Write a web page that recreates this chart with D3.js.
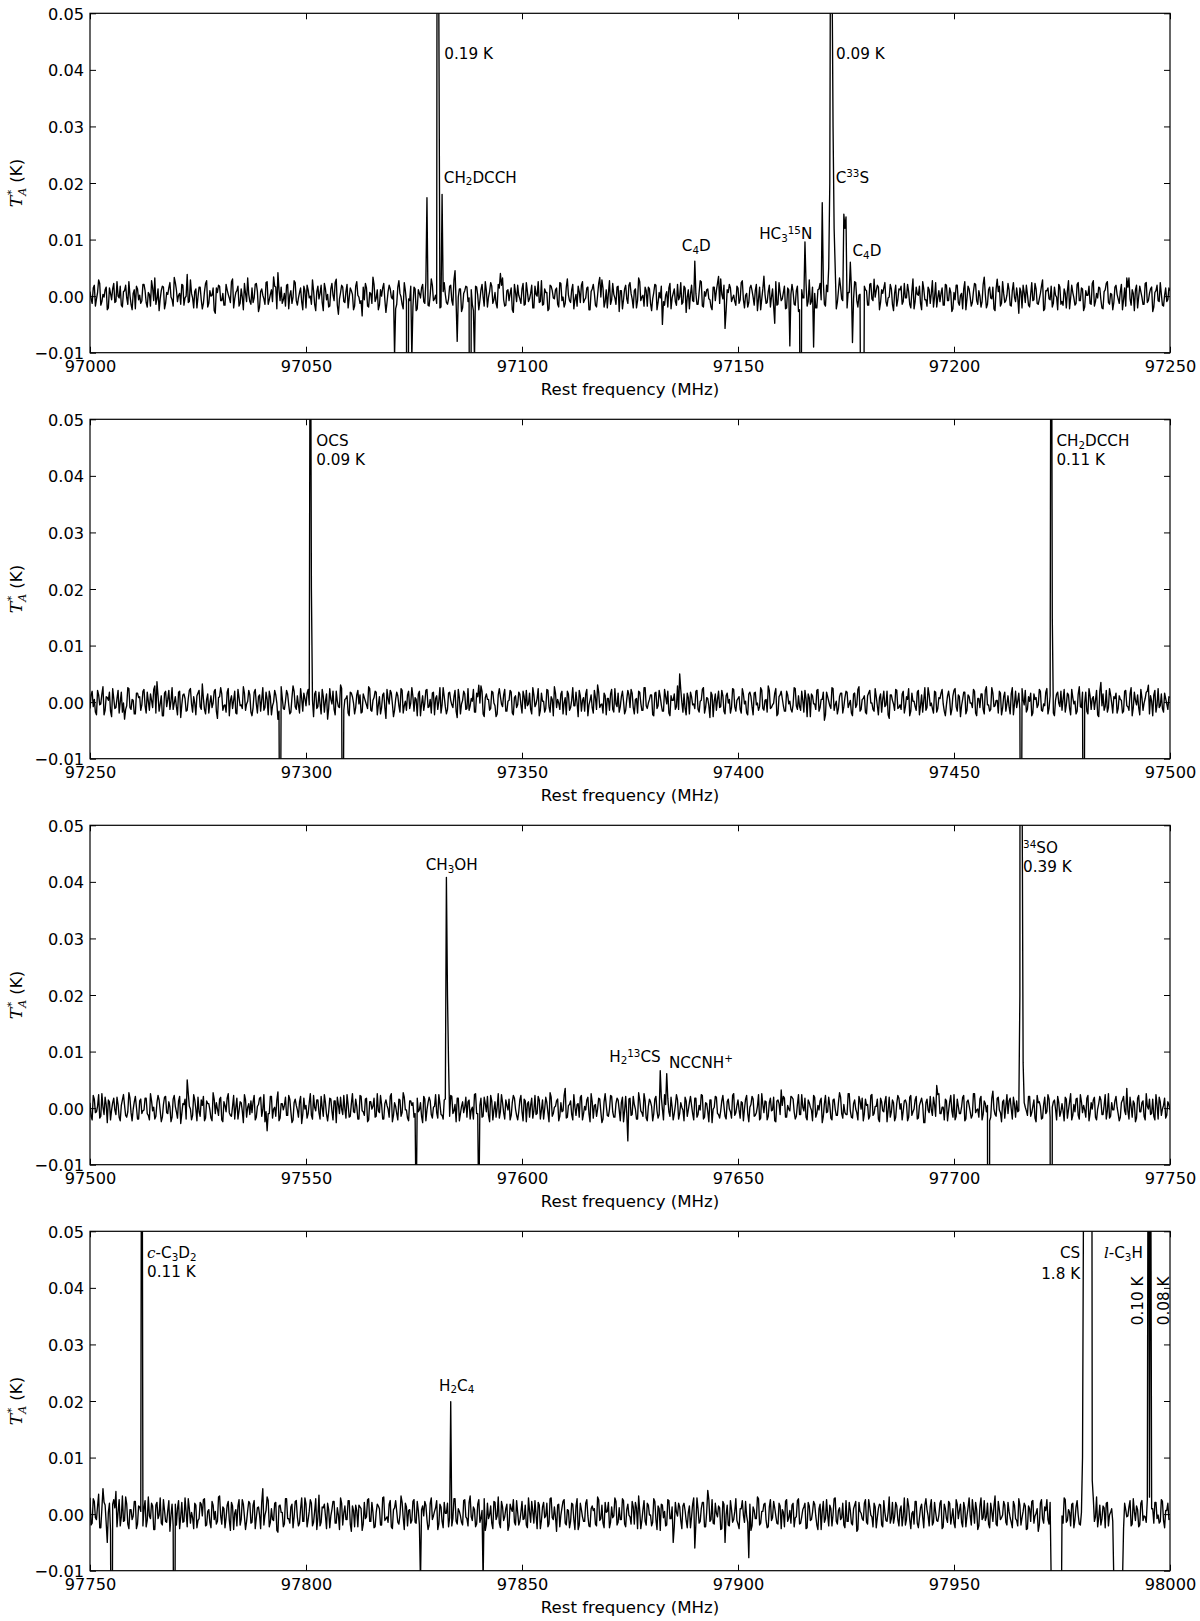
<!DOCTYPE html>
<html><head><meta charset="utf-8">
<script src="https://cdn.jsdelivr.net/npm/d3@7"></script>
<style>body{margin:0;background:#fff} svg text{font-family:"DejaVu Sans",sans-serif}</style>
</head><body>
<svg id="chart" width="1200" height="1621"></svg>
<script>
// ---------------- DATA ----------------
const startFreqs = [97000, 97250, 97500, 97750];   // MHz, each panel spans 250 MHz
const spanMHz = 250;
const xTickStep = 50;
const yTicks = [-0.01, 0, 0.01, 0.02, 0.03, 0.04, 0.05];
const noiseUnit = 1.6e-4; // K per noise count

// baseline noise on even channels (every 0.5 MHz, starting at the panel start), in noise counts
const noise1 = [
5,-8,12,-3,18,-10,2,7,-15,9,-4,14,-6,0,11,-12,6,-2,16,-9,3,-14,8,1,-5,
13,-7,4,-11,9,20,-3,-16,6,10,-8,2,15,-4,-12,7,1,-9,12,-2,24,-6,3,-13,8,
-1,10,-14,5,17,-8,0,9,-19,4,11,-5,-10,13,2,-7,19,-3,6,-11,8,-15,3,12,-6,
9,-2,14,-17,5,1,-9,16,-4,7,-12,10,26,-5,-8,3,12,-14,6,-1,15,-10,4,-6,11,
-13,7,0,18,-9,5,-3,12,-16,8,2,-11,14,-5,9,-20,4,10,-7,13,-2,6,-15,11,1,
-8,16,-4,9,-12,3,21,-6,7,-10,0,14,-18,5,8,-3,11,-9,17,-1,-14,6,12,-5,2,
10,-16,7,-2,13,-8,4,-11,19,-5,1,9,-13,6,15,-7,-3,12,-10,28,-4,8,-17,3,11,
-6,14,-9,2,10,-15,7,-1,16,-12,5,11,-4,-8,13,-2,20,-11,6,-5,9,-18,4,12,-3,
8,-10,15,-6,3,-13,11,0,-7,17,-9,4,-16,12,6,-3,9,-12,14,-1,-8,19,-5,7,-14,
2,11,-7,16,-4,9,-15,5,13,-10,1,-6,18,-12,7,3,-9,14,-2,10,-17,6,-4,12,-8,
15,-3,6,-13,20,-5,1,10,-11,8,-16,4,12,-7,-2,17,-10,5,9,-14,3,-6,13,-1,-9,
11,-18,7,2,-5,14,-9,4,16,-12,0,8,-4,-15,10,6,-8,19,-3,-11,7,13,-6,1,-10,
9,-4,17,-13,3,-7,12,-1,6,-16,10,-3,22,-8,5,-12,8,1,-10,15,-5,4,-14,9,-2,
13,-9,6,-17,11,-2,8,-11,18,-6,3,-13,7,14,-4,-9,12,-1,5,-15,9,-7,20,-3,6,
-12,4,11,-8,16,-5,1,-14,9,7,-10,13,-3,-18,6,10,-7,3,15,-11,-1,8,-16,12,-4,
7,-9,14,-2,5,-13,19,-6,2,11,-15,8,-4,10,-8,17,-1,-12,6,3,-10,13,-5,9,-17,
4,12,-7,1,-14,16,-3,8,-11,5,13,-9,0,-6,21,-13,7,-2,10,-16,4,11,-8,3,-5,
14,-10,6,-1,9,-19,5,12,-7,2,-12,15,-4,8,-9,3,18,-14,6,-3,11,-8,1,-15,10,
-6,8,-13,17,-2,4,-10,13,-5,9,-16,6,1,-8,14,-11,3,10,-4,-14,7,16,-9,2,-7,
12,-3,5,-15,9,-6,20,-10,3,7,-13,11,-1,-9,15,-5,8,-17,4,12,-6,2,-11,9,-4,
6];
// baseline noise on odd channels (half-way between the even ones)
const noise1b = [
-3,9,-11,4,14,-6,-1,10,-13,3,8,-7,16,-2,-10,5,12,-9,1,-15,7,11,-4,-8,13,
6,-12,2,17,-5,-9,8,-3,11,-14,4,9,-1,-11,15,-6,3,13,-10,0,-7,18,-2,5,-13,
10,-4,-8,14,-12,6,1,-16,9,12,-5,3,-10,7,-2,16,-13,4,11,-8,-1,14,-6,2,-9,
-7,13,5,-12,8,-3,15,-9,2,-6,11,-14,7,10,-4,-11,13,1,-8,17,-5,-2,9,-15,6,
12,-2,-9,6,-16,11,3,-7,14,-4,-12,8,1,15,-10,-3,12,-6,5,-13,9,2,-11,16,-1,
-5,10,14,-11,4,-8,13,-2,-15,7,9,-4,-7,12,-1,6,-14,10,3,-9,15,-6,-3,11,-12,
8,-14,3,9,-6,16,-10,1,12,-3,-8,14,-12,5,2,-9,11,-5,18,-7,-1,8,-13,6,10,
-2,7,-16,11,1,-5,13,-11,6,-1,15,-8,4,-13,9,12,-4,-10,7,3,-15,13,-6,1,-8,
14,-9,5,-3,12,-13,2,16,-6,-10,8,4,-14,11,-2,7,-9,15,-5,-12,10,1,-7,13,-4,
-11,5,12,-7,-2,10,-15,8,3,-12,14,-1,9,-6,-13,17,-4,2,-9,11,6,-14,8,-3,12,
3,-13,8,-5,16,-1,-11,6,10,-8,-3,13,-15,4,11,-6,1,-12,14,-2,8,-10,-4,15,-7,
9,-1,-14,12,-6,3,-9,17,-11,5,7,-3,-12,10,-5,14,-8,2,12,-16,4,9,-2,-6,11,
-8,15,-4,1,-12,9,6,-10,13,-3,-15,8,2,-7,12,-1,-11,16,-9,4,-3,11,-13,7,2,
5,-10,11,-15,7,-2,14,-6,-9,10,3,-13,8,-4,16,-11,5,1,-7,13,-14,6,10,-5,-1,
-13,4,9,-3,15,-12,2,-7,11,6,-10,14,-5,-1,12,-15,7,9,-6,-2,13,-9,3,-11,8,
11,-6,-2,13,-9,5,-14,10,1,-8,16,-4,-11,7,3,-12,15,-2,-6,9,-10,12,-5,4,-14,
-4,12,-10,3,8,-15,11,-1,-7,14,-5,6,-12,13,2,-9,10,-3,-14,8,5,-11,16,-7,1,
7,-11,15,-6,-1,9,-13,4,12,-10,2,-5,14,-8,-3,11,-16,6,9,-4,-12,10,-1,13,-9,
-10,3,6,-14,12,-2,-8,15,-5,8,-12,1,11,-9,17,-6,-2,9,-13,5,14,-7,3,-15,10,
2,-8,13,-4,-11,10,-3,7,-16,12,-1,5,-9,14,-7,3,10,-12,6,-5,15,-10,1,-6,9];
const noise2 = [
-7,12,3,-14,8,-2,17,-9,5,11,-16,4,-6,13,0,-11,9,-4,15,-8,2,-13,10,6,-3,
14,-12,1,9,-6,18,-3,-10,7,-15,12,3,-8,16,-1,-5,11,-17,8,4,-9,13,-2,6,-14,
10,-5,20,-8,3,-12,7,-1,14,-18,6,9,-4,-11,15,2,-7,12,-13,5,-3,17,-9,1,8,
-15,11,-2,6,-10,16,-6,3,12,-14,0,8,-19,9,5,-8,13,-3,-11,18,-5,7,-12,4,10,
-4,14,-16,2,9,-7,11,-13,6,1,-10,15,-2,-8,12,-5,19,-12,3,7,-15,10,-1,-6,13,
8,-11,5,-3,17,-9,2,12,-14,6,-6,10,-18,4,13,-2,-9,11,-4,15,-12,1,8,-7,16,
-10,3,9,-15,7,-1,14,-5,-12,11,4,-8,16,-3,6,-13,10,2,-6,13,-17,5,-2,12,-8,
15,-4,1,-11,10,-7,18,-13,5,3,-9,12,-1,-16,8,6,-5,14,-10,2,11,-14,7,-3,9,
-12,6,13,-2,-8,16,-5,4,-15,10,1,-7,13,-11,3,17,-6,-1,9,-13,5,12,-9,2,-4,
11,-16,7,2,-10,14,-3,8,-12,5,19,-6,-2,10,-14,4,9,-8,15,-5,-11,6,1,-9,13,
-6,10,-13,4,12,-1,-9,16,-7,3,8,-15,11,-4,6,-10,14,-2,-12,7,2,-8,18,-5,0,
9,-14,5,11,-3,-7,13,-11,2,16,-6,4,-17,8,1,-9,12,-5,7,-13,10,3,-6,14,-10,
4,-8,15,-2,-12,9,6,-14,11,-1,-5,13,-9,3,18,-7,-3,10,-15,6,12,-4,-10,8,1,
-11,16,-4,7,-9,2,13,-16,5,9,-2,-8,14,-6,3,-12,11,1,-7,15,-3,-13,6,10,-5,
12,-6,2,-15,10,-3,17,-8,4,-11,7,13,-1,-10,6,-14,9,3,-5,12,-18,8,-2,14,-7,
-3,9,-12,6,15,-10,1,-5,11,-14,8,2,-9,16,-4,-7,12,-11,5,10,-2,-15,7,3,-8,
13,-5,8,-16,3,11,-9,6,-1,14,-12,4,-6,9,-13,17,-3,-8,10,-4,2,12,-14,6,-10,
7,-13,16,-2,-6,10,-11,3,13,-8,1,-15,9,5,-3,12,-10,-4,15,-7,6,-12,2,11,-5,
-9,14,-3,8,-14,5,1,-10,17,-6,-2,11,-13,7,4,-8,13,-16,3,9,-5,-11,15,-1,6,
10,-7,3,-12,12,-4,-9,16,-6,2,8,-14,5,-1,11,-10,7,-15,13,-3,-6,9,-11,4,-8,
5];
const noise2b = [
8,-5,-11,13,-3,9,-14,6,2,-10,15,-7,4,-12,11,-1,-8,16,-6,3,-13,10,5,-9,12,
-4,11,-9,2,14,-12,7,-2,-15,10,-5,13,1,-8,6,-14,12,-3,9,-10,4,15,-11,-1,7,
13,-8,4,-13,9,-1,-6,12,-10,5,16,-9,-3,11,-15,7,2,-12,14,-4,-7,10,-2,13,-11,
-6,14,-12,8,3,-9,11,-14,6,-4,13,-1,-10,17,-7,1,9,-13,5,12,-8,-3,15,-10,4,
10,-3,7,-16,12,-5,-2,14,-11,9,-7,3,12,-14,1,-6,15,-9,4,-12,11,6,-13,8,-2,
-12,9,1,-7,15,-10,5,11,-3,-13,8,-6,14,-2,10,-16,3,7,-11,13,-4,-9,12,-1,6,
5,-15,12,-2,-9,13,-6,3,10,-14,7,1,-12,16,-5,-8,11,-3,6,-10,14,-13,2,9,-7,
-9,4,14,-11,6,-1,12,-16,9,3,-7,11,-4,-13,15,-2,8,-10,1,13,-12,5,-6,11,-3,
12,-7,-4,10,-13,8,-2,15,-9,1,-11,14,-5,6,-15,10,3,-8,12,-1,-14,9,-6,16,-4,
-1,13,-10,5,9,-15,2,-6,13,-8,11,-3,-12,7,4,-9,14,-11,-2,10,-5,12,-13,3,8,
14,-6,3,-12,11,-9,16,-4,-1,8,-14,10,-7,13,-3,-10,6,12,-15,2,9,-5,-8,14,-11,
-7,10,-13,6,-2,12,-8,1,14,-12,5,-4,11,-16,9,3,-6,13,-10,7,-1,-12,15,-5,2,
6,-12,9,1,-14,11,-5,10,-3,-9,16,-7,2,-11,13,-6,-1,15,-13,8,4,-10,12,-2,-8,
-3,15,-8,-5,12,-11,4,9,-16,7,-2,13,-10,3,11,-14,6,-4,16,-9,1,-7,10,-12,5,
11,-2,-12,9,-6,14,-10,3,7,-13,10,-1,-8,15,-4,5,-11,12,-3,-14,8,2,-9,13,-6,
-8,12,-5,3,-15,10,1,-9,13,-4,-11,16,-6,8,-1,-12,11,-7,4,14,-10,-3,12,-14,7,
15,-10,6,-4,11,-13,8,-1,-6,12,-15,4,9,-8,13,-3,-10,16,-5,2,-12,10,-7,11,-2,
-5,9,-14,12,1,-8,15,-3,-11,6,10,-12,3,-6,14,-9,-2,11,-13,7,5,-15,9,-1,12,
3,-11,10,-7,14,-2,-13,9,-5,11,-1,-10,15,-8,6,2,-14,12,-4,-9,13,-6,8,-12,4,
-12,7,2,-10,13,-5,9,-15,11,-3,-6,14,-9,4,12,-13,1,8,-11,15,-4,-7,10,-2,6];
const noise3 = [
6,-13,10,-4,15,-9,1,12,-16,7,-2,11,-7,4,-14,9,3,-10,17,-5,-1,13,-12,8,-6,
-2,11,-8,16,-3,-12,6,9,-15,4,13,-6,1,-10,14,-4,8,-17,5,10,-7,2,-13,15,-1,
12,-9,3,-14,8,5,-11,17,-6,-1,10,-13,7,-4,16,-8,2,-12,11,-3,6,-16,9,1,-7,
-5,14,-10,4,12,-2,-15,9,-6,13,-1,-9,18,-11,5,3,-8,14,-4,-13,10,-2,7,-17,11,
3,-6,16,-12,1,9,-5,13,-9,6,-14,11,-3,8,-16,4,12,-7,-1,15,-10,5,-4,10,-12,
14,-3,-8,11,-13,7,2,-10,16,-5,4,-12,9,-1,13,-15,6,-6,10,-9,17,-2,-11,8,3,
-10,13,-4,6,-16,10,-2,12,-7,1,15,-11,5,-8,9,-3,-13,14,-6,4,11,-14,2,-5,12,
7,-12,1,15,-6,-3,11,-9,5,13,-15,8,-2,-10,16,-4,6,-12,3,10,-8,14,-1,-13,9,
-4,10,-15,7,3,-11,14,-6,9,-2,-12,12,-5,17,-9,1,8,-14,6,-3,13,-10,4,-7,15,
-8,5,12,-13,2,9,-6,16,-11,4,-1,10,-16,7,3,-9,14,-4,-10,11,-2,6,-15,13,-5,
11,-7,4,-12,17,-3,-9,8,-14,10,2,-6,13,-11,5,-1,15,-8,-4,12,-13,3,9,-6,1,
-14,8,-2,13,-6,11,-10,3,15,-12,6,-4,9,-16,1,12,-7,-3,14,-9,7,-1,-11,16,-5,
9,-11,6,-1,14,-15,4,10,-8,2,-13,16,-5,7,-9,11,-2,-14,8,5,-6,13,-10,3,-3,
12,-4,-9,15,-7,1,11,-13,6,-2,14,-10,3,8,-16,5,-5,12,-11,9,-1,-8,17,-6,4,
-7,16,-3,-11,9,-5,13,-1,-14,10,4,-9,15,-6,2,-12,11,-3,7,-15,12,-4,6,-10,14,
-1,-13,8,5,-10,14,-4,9,-12,3,11,-16,6,-2,13,-8,4,-11,16,-6,1,10,-14,7,-3,
15,-9,2,-6,12,-14,7,3,-11,16,-5,-1,10,-13,8,-4,14,-10,5,-7,11,-2,-15,9,2,
-6,11,-12,4,8,-3,15,-10,1,-8,13,-5,9,-15,6,2,-11,12,-4,10,-16,7,-1,13,-9,
5,-14,10,-2,16,-8,-4,11,-12,7,3,-10,14,-6,-1,12,-13,5,9,-7,15,-3,-11,6,-2,
13,-6,-10,9,-3,14,-12,2,8,-15,11,-4,6,-9,16,-1,-7,10,-13,4,12,-8,3,-11,7,
-2];
const noise3b = [
-9,14,-5,2,-11,16,-7,4,9,-13,6,-2,12,-10,3,15,-8,-4,11,-14,7,1,-12,10,-3,
11,-6,-13,8,1,-9,14,-3,-10,12,-5,7,-15,10,2,-11,13,-6,4,-12,16,-1,-8,9,-14,
-4,9,13,-11,5,-2,-14,10,6,-8,12,-15,3,11,-5,-9,14,1,-12,7,-3,15,-10,5,8,
7,-13,2,11,-9,15,-4,-6,13,-11,1,9,-14,5,-2,12,-8,10,-16,6,3,-10,13,-7,-1,
-11,6,-8,14,-3,9,-12,1,15,-7,-4,10,-13,8,12,-6,-1,14,-11,4,-9,16,-5,2,-12,
13,-4,10,-15,7,-1,11,-9,-3,14,-12,5,3,-10,16,-8,2,-13,9,-5,12,-2,-14,8,6,
-6,11,-2,-9,13,-14,6,8,-11,2,-5,15,-7,-12,10,4,-9,13,-3,-15,11,-6,7,1,-10,
9,-2,-12,16,-6,3,-10,12,-4,-8,14,-13,7,1,-11,15,-5,9,-2,-13,6,11,-8,-4,14,
-14,8,5,-10,11,-3,-7,13,-12,9,-1,6,-15,12,-6,2,10,-9,-4,14,-11,3,8,-13,1,
4,-10,14,-6,-2,12,-15,7,3,-9,11,-4,-12,16,-8,-1,13,-10,5,9,-14,12,-3,-6,10,
-8,13,-1,-12,9,-5,16,-11,2,7,-14,10,-3,-7,12,-13,4,11,-9,1,-6,15,-12,6,-2,
12,-9,6,3,-13,11,-7,-2,14,-10,5,-15,9,-1,13,-6,-11,8,2,-12,10,-4,14,-8,3,
-2,7,-14,10,-6,1,13,-9,-5,15,-11,4,8,-13,6,-3,12,-15,9,-7,3,11,-10,-1,13,
10,-12,4,-7,15,-3,-10,9,1,-14,12,-6,-2,11,-9,14,-4,3,-13,10,-8,6,12,-11,-5,
-7,16,-10,5,-1,-13,8,11,-6,3,-12,14,-8,2,10,-15,7,-4,13,-2,-10,9,-14,5,11,
5,-3,9,-14,12,-8,-1,13,-11,7,4,-16,10,-5,-2,12,-9,15,-6,1,-13,8,-3,14,-10,
-13,10,-6,1,14,-12,9,-4,-8,16,-2,-10,13,-7,5,3,-14,11,-1,-9,12,-5,7,-11,15,
8,-1,12,-10,-4,11,-15,6,-3,13,-9,2,-11,14,7,-12,4,-6,15,-10,1,9,-13,6,-4,
-3,12,-11,7,-13,4,10,-8,15,-5,-2,11,-14,6,9,-10,-1,13,-7,3,-12,16,-9,-2,8,
1,-14,6,13,-7,-3,12,-10,5,-11,14,-4,8,-13,2,10,-6,-9,15,-12,7,-1,11,-8,4];
const noise4 = [
18,-10,14,-6,22,-15,3,10,-18,12,-4,16,-9,2,-13,20,-7,11,-16,5,-2,14,-11,8,-20,
6,-14,19,-5,9,-17,13,-1,-10,16,-8,4,-19,11,7,-12,15,-3,-9,18,-14,6,2,-16,10,
-7,13,-2,17,-12,5,-15,10,3,-8,20,-11,6,-4,14,-18,9,1,-13,16,-6,11,-17,4,12,
-9,15,-4,8,-16,12,-1,19,-14,6,-7,13,-20,10,2,-11,17,-5,8,-15,14,-3,-10,18,-8,
11,-6,16,-13,3,-17,21,-9,7,-2,12,-15,5,14,-10,-1,18,-12,9,-6,15,-19,4,10,-14,
8,-18,13,-3,17,-8,2,-14,11,6,-12,19,-5,-9,15,-16,7,3,-11,20,-4,12,-13,5,-7,
16,-10,4,-15,9,14,-6,-12,18,-2,7,-17,11,-8,13,1,-14,10,-5,17,-11,3,-9,15,-3,
-13,20,-7,5,-11,16,-4,9,-18,12,-1,-10,14,-6,19,-15,8,-3,11,-13,6,16,-12,2,-8,
14,-5,-12,18,-9,3,15,-16,10,-7,13,-2,-14,17,-4,8,-19,11,-1,14,-10,5,-15,12,-6,
9,-17,12,-3,-8,16,-13,6,4,-11,19,-7,10,-15,2,13,-9,-4,18,-12,7,-6,15,-14,11,
-3,14,-11,7,20,-16,5,-8,12,-1,-13,17,-6,9,-18,10,3,-12,15,-5,-9,13,-2,8,-16,
12,-7,2,-15,11,-4,18,-10,6,13,-14,4,-8,16,-11,1,9,-17,14,-3,10,-13,5,-6,17,
-11,6,15,-9,-2,13,-18,8,-5,19,-12,3,11,-7,-14,16,-4,7,-10,12,-16,2,14,-8,4,
10,-14,-3,17,-10,5,12,-15,9,-6,14,-2,-17,11,3,-9,16,-13,6,-1,18,-11,7,-4,-12,
15,-8,4,-12,10,-19,13,1,-7,16,-11,8,-3,12,-15,6,10,-14,2,-8,19,-5,-10,13,-6,
5,-13,18,-6,9,-16,3,14,-10,-4,11,-15,17,-2,8,-12,13,-7,-1,15,-14,6,-9,12,-3,
-10,16,-5,11,-14,7,-2,18,-12,4,13,-17,9,-6,15,-3,-11,12,-8,20,-13,5,-4,14,-9,
13,-4,-15,10,-7,17,-12,3,9,-16,6,14,-10,1,-19,12,-5,8,16,-11,-2,10,-14,7,-6,
-2,18,-9,5,-13,12,-6,15,-11,2,-17,10,7,-14,11,-8,19,-4,-12,9,-15,13,-1,6,-10,
14,-11,3,-16,12,-3,8,-13,17,-7,5,-12,15,-2,-9,11,-18,6,13,-5,-10,16,-7,4,12,
-5];
const noise4b = [
-12,17,-4,9,-15,6,13,-10,2,-18,11,7,-14,16,-3,-8,19,-11,5,-6,14,-16,9,3,-13,
15,-7,-2,12,-17,10,-5,18,-12,4,-9,15,-1,-13,11,6,-16,13,-8,2,17,-10,-4,12,-15,
-5,11,16,-13,3,-9,14,-6,-11,19,-2,8,-15,10,-7,13,-17,5,9,-12,16,-3,-8,14,-10,
10,-16,7,-1,13,-12,4,15,-9,-6,12,-18,9,2,-14,17,-5,-10,11,-3,15,-13,6,-8,18,
-14,3,12,-9,17,-4,-13,8,11,-16,5,-2,14,-10,7,-17,12,1,-6,15,-11,9,-14,4,10,
6,-11,-5,16,-8,13,-15,2,9,-12,18,-7,-3,11,-14,5,15,-9,-1,13,-17,8,4,-10,14,
-9,14,-12,5,-2,10,-17,12,-6,3,15,-11,8,-15,1,12,-4,-13,17,-8,6,-2,-12,16,-5,
13,-3,8,-14,11,-9,4,17,-11,-5,9,-16,13,-2,-10,14,-7,6,-18,11,3,-9,15,-12,2,
-6,10,-15,3,14,-10,-1,13,-16,8,-4,12,-11,18,-6,-3,10,-14,7,16,-12,4,-8,11,-17,
17,-12,5,-8,12,-2,-14,9,6,-13,16,-5,-10,13,3,-15,8,-2,14,-9,-6,17,-11,5,-1,
-11,8,13,-16,4,-7,15,-12,10,-1,-9,14,-17,6,11,-4,-13,16,-5,8,-14,2,12,-7,9,
4,-15,9,-3,18,-11,6,-8,13,-14,2,16,-6,-10,12,-3,7,-16,11,-1,-12,15,-9,3,-7,
-16,6,-1,14,-9,11,-13,4,-5,17,-10,3,12,-15,8,-7,14,-2,-11,9,5,-14,16,-4,-10,
12,-4,15,-11,-3,8,-16,13,-7,2,11,-12,6,-17,14,-5,-1,10,-13,17,-8,4,-6,12,-15,
-8,13,-10,6,14,-17,3,-5,12,-9,16,-1,-14,8,-4,11,-12,15,-7,2,-10,13,-3,9,-13,
9,-2,-12,17,-6,1,-11,14,-15,7,-3,10,5,-13,16,-9,2,-8,12,-16,11,-5,14,-11,6,
-15,11,4,-9,13,-14,7,-2,16,-10,5,-13,18,-4,-7,12,-15,3,9,-11,14,-6,-1,10,-12,
3,-9,14,-5,-13,10,-4,12,-17,9,-8,15,-2,6,-12,16,-10,4,-6,13,-14,1,11,-9,15,
-10,16,-7,2,11,-15,8,-1,-12,14,-6,-4,13,-9,17,-3,-14,10,-5,7,12,-13,2,-8,11,
7,-13,10,-16,5,-2,15,-11,3,9,-14,12,-7,-3,16,-12,6,-10,13,-1,-8,14,-15,4,-6];

// spectral features (lines, frequency-switching ghosts, strong noise spikes): [MHz, K]
const features1 = [[97019.5,0.0033],[97036.5,0.0032],[97042.5,0.0034],[97057,0.0030],[97063,-0.0035],
[97070.5,-0.0105],[97073.5,-0.095],[97074.5,-0.011],[97078,0.0174],[97080.5,0.19],[97080.75,0.05],
[97081.5,0.018],[97085,-0.008],[97088,-0.095],[97089,-0.011],[97095,0.004],[97118,0.0033],
[97132.5,-0.005],[97140,0.0062],[97145.5,0.0035],[97147,-0.0057],[97158.5,-0.0048],[97162,-0.0088],
[97164.5,-0.045],[97165.5,0.0096],[97167.5,-0.009],[97169.5,0.0165],[97171,0.005],[97171.25,0.02],
[97171.5,0.09],[97171.75,0.06],[97172,0.03],[97172.25,0.012],[97172.5,0.005],[97174.5,0.0145],
[97174.75,0.012],[97175,0.014],[97176,0.006],[97176.5,-0.0082],[97178.5,-0.045],[97178.75,-0.03],
[97179,-0.045],[97181.5,0.003],[97210,0.003],[97240,0.0032]];
const features2 = [[97258,-0.003],[97265.5,0.0036],[97294,-0.045],[97301,0.09],[97301.25,0.02],
[97305,-0.003],[97308.5,-0.045],[97340,0.003],[97386.5,0.005],[97420,-0.0032],[97465.5,-0.055],
[97472.5,0.11],[97472.75,0.015],[97480,-0.055],[97484,0.0035],[97495,0.003]];
const features3 = [[97522.5,0.005],[97541,-0.004],[97575.5,-0.02],[97582.5,0.0408],[97582.75,0.02],
[97583,0.008],[97590,-0.02],[97610,0.0035],[97624.5,-0.0058],[97632,0.0066],[97633.5,0.0061],
[97660,0.0032],[97696,0.004],[97708,-0.19],[97709,0.003],[97715.25,0.02],[97715.5,0.39],
[97715.75,0.06],[97716,0.008],[97722.5,-0.19],[97740,0.0035]];
const features4 = [[97753,0.0045],[97754,-0.005],[97755,-0.055],[97756,0.004],[97762,0.11],
[97769.5,-0.055],[97790,0.0045],[97826.5,-0.012],[97833.5,0.0199],[97841,-0.012],[97885,-0.005],
[97890,-0.006],[97893,0.0042],[97897,-0.005],[97902.5,-0.0077],
[97972.5,-0.012],[97972.75,-0.3],[97973,-0.6],[97973.25,-0.8],[97973.5,-0.9],[97973.75,-0.9],
[97974,-0.8],[97974.25,-0.5],[97974.5,-0.2],[97974.75,-0.03],
[97979.75,0.01],[97980,0.06],[97980.25,0.5],[97980.5,1.2],[97980.75,1.6],[97981,1.8],
[97981.25,1.5],[97981.5,0.9],[97981.75,0.2],[97982,0.006],
[97987,-0.012],[97987.25,-0.4],[97987.5,-0.9],[97987.75,-0.95],[97988,-0.9],[97988.25,-0.75],
[97988.5,-0.5],[97988.75,-0.2],[97989,-0.012],
[97995,0.1],[97995.25,0.003],[97995.5,0.08]];

// annotations: text (with _sub, ^sup, $italic$), frequency (MHz), T (K)
const labels1 = [["0.19 K",97082.0,0.0429],["CH_2DCCH",97081.9,0.0210],["C_4D",97137.0,0.0089],
["HC_3^{15}N",97154.9,0.0110],["C^{33}S",97172.6,0.0210],["0.09 K",97172.7,0.0429],["C_4D",97176.5,0.0080]];
const labels2 = [["OCS",97302.4,0.0462],["0.09 K",97302.4,0.0428],["CH_2DCCH",97473.7,0.0462],["0.11 K",97473.7,0.0428]];
const labels3 = [["CH_3OH",97577.7,0.0430],["H_2^{13}CS",97620.2,0.0091],["NCCNH^+",97634.0,0.0081],
["^{34}SO",97716.0,0.0460],["0.39 K",97716.0,0.0427]];
const labels4 = [["$c$-C_3D_2",97763.2,0.0462],["0.11 K",97763.2,0.0428],["H_2C_4",97830.8,0.0228],
["$l$-C_3H",97984.7,0.0462]];
const labels4Right = [["CS",97979.2,0.0462],["1.8 K",97979.2,0.0426]];
const labels4Vertical = [["0.10 K",97992.4,0.0334],["0.08 K",97998.4,0.0334]];

const panelNoise = [[noise1, noise1b], [noise2, noise2b], [noise3, noise3b], [noise4, noise4b]];
const panelFeatures = [features1, features2, features3, features4];
const panelLabels = [labels1, labels2, labels3, labels4];

// ---------------- LAYOUT ----------------
const svg = d3.select("#chart");
svg.append("rect").attr("width",1200).attr("height",1621).attr("fill","#fff");
const L = 90, R = 1170, TOP = 13.3, PH = 339.4, STEP = 406;
const tickFont = 16.2, labFont = 16.6, annFont = 15.2;

function rich(textSel, str, size){
  const re = /_\{([^}]*)\}|_(.)|\^\{([^}]*)\}|\^(.)|\$([^$]*)\$|([^_^$]+)/g;
  let m, shift = 0;
  while((m = re.exec(str))){
    let txt, kind;
    if(m[1]!==undefined || m[2]!==undefined){txt = m[1]!==undefined?m[1]:m[2]; kind='sub';}
    else if(m[3]!==undefined || m[4]!==undefined){txt = m[3]!==undefined?m[3]:m[4]; kind='sup';}
    else if(m[5]!==undefined){txt = m[5]; kind='it';}
    else {txt = m[6]; kind='n';}
    const target = kind==='sub' ? 0.15*size : kind==='sup' ? -0.36*size : 0;
    const ts = textSel.append("tspan").text(txt).attr("dy", target - shift);
    shift = target;
    if(kind==='sub' || kind==='sup') ts.attr("font-size", size*0.68);
    if(kind==='it') ts.attr("font-style","italic").attr("font-family","DejaVu Serif");
  }
}

startFreqs.forEach((f0, p) => {
  const g = svg.append("g").attr("transform", `translate(0,${TOP + p*STEP})`);
  const x = d3.scaleLinear().domain([f0, f0 + spanMHz]).range([L, R]);
  const y = d3.scaleLinear().domain([-0.01, 0.05]).range([PH, 0]);

  // interleave even/odd channel samples
  const [even, odd] = panelNoise[p];
  const samples = [];
  even.forEach((v, i) => { samples.push(v); if(i < odd.length) samples.push(odd[i]); });
  const n = samples.length;
  const step = spanMHz / (n - 1);
  const data = samples.map((v, i) => ({f: f0 + i*step, t: v*noiseUnit}));
  panelFeatures[p].forEach(([f, t]) => {
    const idx = Math.round((f - f0)/step);
    if(idx >= 0 && idx < n) data[idx].t = t;
  });

  const clipId = "clip" + p;
  g.append("clipPath").attr("id", clipId).append("rect")
    .attr("x", L).attr("y", 0).attr("width", R - L).attr("height", PH);

  g.append("path").datum(data)
    .attr("clip-path", `url(#${clipId})`)
    .attr("fill","none").attr("stroke","#000").attr("stroke-width",1.35)
    .attr("stroke-linejoin","round")
    .attr("d", d3.line().x(d => x(d.f)).y(d => y(d.t)));

  const xt = d3.range(f0, f0 + spanMHz + 1, xTickStep);
  const fmtY = d3.format(".2f");

  const ax = g.append("g").attr("transform", `translate(0,${PH})`)
    .call(d3.axisBottom(x).tickValues(xt).tickFormat(d3.format("d")).tickSize(-6).tickPadding(7));
  const axT = g.append("g").call(d3.axisTop(x).tickValues(xt).tickFormat("").tickSize(-6));
  const ay = g.append("g").attr("transform", `translate(${L},0)`)
    .call(d3.axisLeft(y).tickValues(yTicks).tickFormat(fmtY).tickSize(-6).tickPadding(6));
  const ayR = g.append("g").attr("transform", `translate(${R},0)`)
    .call(d3.axisRight(y).tickValues(yTicks).tickFormat("").tickSize(-6));
  [ax, axT, ay, ayR].forEach(a => {
    a.select(".domain").remove();
    a.attr("font-family", null).attr("font-size", null);
    a.selectAll("line").attr("stroke","#000").attr("stroke-width",1);
    a.selectAll("text").attr("font-size", tickFont).attr("fill","#000")
      .attr("font-family","DejaVu Sans");
  });
  ay.selectAll("text").attr("dy","0.37em");
  ax.selectAll("text").attr("dy","0.76em");

  g.append("rect").attr("x", L).attr("y", 0).attr("width", R - L).attr("height", PH)
    .attr("fill","none").attr("stroke","#000").attr("stroke-width",1.2);

  // x label
  g.append("text").attr("x", (L + R)/2).attr("y", PH + 42.5)
    .attr("text-anchor","middle").attr("font-size", labFont).text("Rest frequency (MHz)");

  // y label
  const yl = g.append("text").attr("transform", `translate(22,${PH/2}) rotate(-90)`)
    .attr("text-anchor","middle").attr("font-size", labFont);
  yl.append("tspan").attr("font-family","DejaVu Serif").attr("font-style","italic").attr("font-size",17).text("T");
  yl.append("tspan").attr("font-size",11).attr("dy",-7).attr("dx",0.5).text("*");
  yl.append("tspan").attr("font-family","DejaVu Serif").attr("font-style","italic").attr("font-size",11)
    .attr("dy",11).attr("dx",-6).text("A");
  yl.append("tspan").attr("dy",-4).text(" (K)");

  // annotations
  panelLabels[p].forEach(([txt, f, t]) => {
    const tx = g.append("text").attr("x", x(f)).attr("y", y(t) + 0.36*annFont)
      .attr("font-size", annFont).attr("text-anchor","start");
    rich(tx, txt, annFont);
  });
  if(p === 3){
    labels4Right.forEach(([txt, f, t]) => {
      const tx = g.append("text").attr("x", x(f)).attr("y", y(t) + 0.36*annFont)
        .attr("font-size", annFont).attr("text-anchor","end");
      rich(tx, txt, annFont);
    });
    labels4Vertical.forEach(([txt, f, t]) => {
      g.append("text").attr("transform", `translate(${x(f)},${y(t)}) rotate(-90)`)
        .attr("dy","0.36em").attr("font-size", annFont).attr("text-anchor","start").text(txt);
    });
  }
});
</script>
</body></html>
